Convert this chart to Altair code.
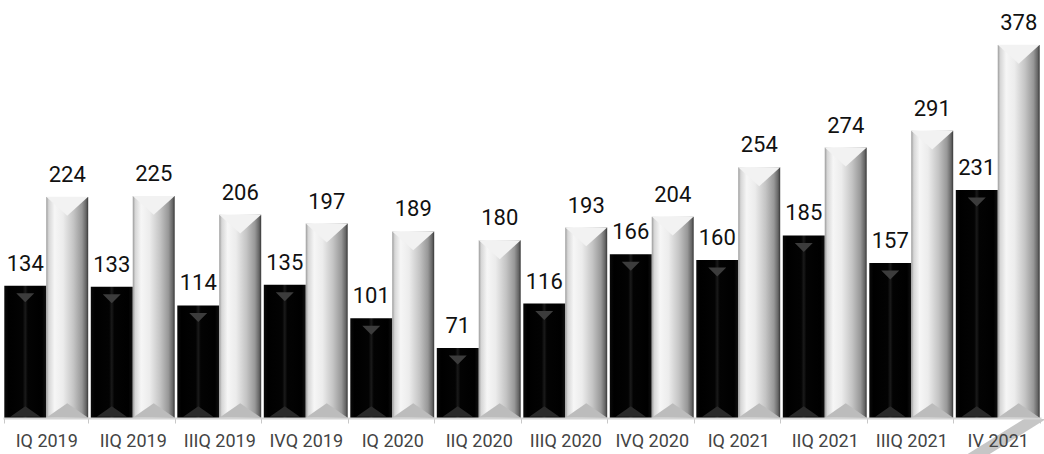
import altair as alt
import pandas as pd

categories = ["IQ 2019", "IIQ 2019", "IIIQ 2019", "IVQ 2019", "IQ 2020", "IIQ 2020",
              "IIIQ 2020", "IVQ 2020", "IQ 2021", "IIQ 2021", "IIIQ 2021", "IV 2021"]
black_values = [134, 133, 114, 135, 101, 71, 116, 166, 160, 185, 157, 231]
silver_values = [224, 225, 206, 197, 189, 180, 193, 204, 254, 274, 291, 378]
series_names = ["Black", "Silver"]

rows = []
for c, b, s in zip(categories, black_values, silver_values):
    rows.append({"cat": c, "series": "Black", "value": b, "zero": 0})
    rows.append({"cat": c, "series": "Silver", "value": s, "zero": 0})
df = pd.DataFrame(rows)


def grad(stops, x1=0, x2=1, y1=0, y2=0):
    return {"gradient": "linear", "x1": x1, "x2": x2, "y1": y1, "y2": y2,
            "stops": [{"offset": o, "color": c} for o, c in stops]}


silver_fill = grad([(0, "#9a9a9a"), (0.06, "#d6d6d6"), (0.2, "#f6f6f6"), (0.4, "#ececec"),
                    (0.65, "#c4c4c4"), (0.85, "#989898"), (0.95, "#666666"), (1, "#363636")])
black_fill = grad([(0, "#0a0a0a"), (0.1, "#000000"), (0.44, "#030303"), (0.5, "#1a1a1a"),
                   (0.56, "#030303"), (0.9, "#000000"), (1, "#111111")])

x_enc = alt.X("cat:N", sort=categories,
              scale=alt.Scale(paddingInner=0.03, paddingOuter=0.015),
              axis=alt.Axis(title=None, labelAngle=0, tickBand="extent",
                            labelFont="Roboto", labelFontSize=18, labelColor="#444444",
                            labelPadding=9, tickSize=5, tickColor="#c8c8c8",
                            domainColor="#d4d4d4", domainWidth=2, zindex=1))
xo_enc = alt.XOffset("series:N", sort=series_names,
                     scale=alt.Scale(domain=series_names, paddingInner=0, paddingOuter=0))
y_scale = alt.Scale(domain=[0, 423.5], nice=False)
y_enc = alt.Y("value:Q", scale=y_scale, axis=None)
y0_enc = alt.Y("zero:Q", scale=y_scale, axis=None)

base = alt.Chart(df)
is_black = alt.datum.series == "Black"
is_silver = alt.datum.series == "Silver"

black_bars = base.transform_filter(is_black).mark_bar(
    color=black_fill).encode(x=x_enc, xOffset=xo_enc, y=y_enc)
silver_bars = base.transform_filter(is_silver).mark_bar(
    color=silver_fill).encode(x=x_enc, xOffset=xo_enc, y=y_enc)

silver_top = base.transform_filter(is_silver).mark_point(
    shape="M-1,-0.45L1,-0.45L0,0.45Z", filled=True, size=1760, opacity=1,
    strokeWidth=0, color="#f2f2f2", yOffset=9.4).encode(x=x_enc, xOffset=xo_enc, y=y_enc)
silver_bottom = base.transform_filter(is_silver).mark_point(
    shape="M-1,0.35L1,0.35L0,-0.35Z", filled=True, size=1760, opacity=1,
    strokeWidth=0, color="#bcbcbc", yOffset=-7.5).encode(x=x_enc, xOffset=xo_enc, y=y0_enc)
black_top = base.transform_filter(is_black).mark_point(
    shape="M-1,-0.5L1,-0.5L0,0.5Z", filled=True, size=324, opacity=1,
    strokeWidth=0, color="#3c3c3c", yOffset=12).encode(x=x_enc, xOffset=xo_enc, y=y_enc)
black_bottom = base.transform_filter(is_black).mark_point(
    shape="M-1,0.35L1,0.35L0,-0.35Z", filled=True, size=900, opacity=1,
    strokeWidth=0, color="#2a2a2a", yOffset=-6.5).encode(x=x_enc, xOffset=xo_enc, y=y0_enc)

labels = base.mark_text(font="Roboto", fontSize=22, color="#111111",
                        baseline="alphabetic", dy=-15).encode(
    x=x_enc, xOffset=xo_enc, y=y_enc, text="value:Q")

# decorative floor edge at the right end of the baseline
floor = base.transform_filter((alt.datum.cat == "IQ 2019") & is_black).mark_point(
    shape="M0.5,-0.466L1,-0.466L-0.5,0.466L-1,0.466Z", filled=True, size=7744,
    opacity=1, strokeWidth=0, color="#c6c6c6").encode(
    x=alt.value(999), y=alt.value(439.5))

chart = alt.layer(floor, black_bars, silver_bars, silver_bottom, silver_top,
                  black_bottom, black_top, labels).properties(
    width=1038, height=418,
    padding={"left": 3, "right": 3, "top": 0, "bottom": 36},
    autosize=alt.AutoSizeParams(type="none"),
).configure_view(stroke=None)

chart.save("out.html", embed_options={"renderer": "svg", "actions": False})
